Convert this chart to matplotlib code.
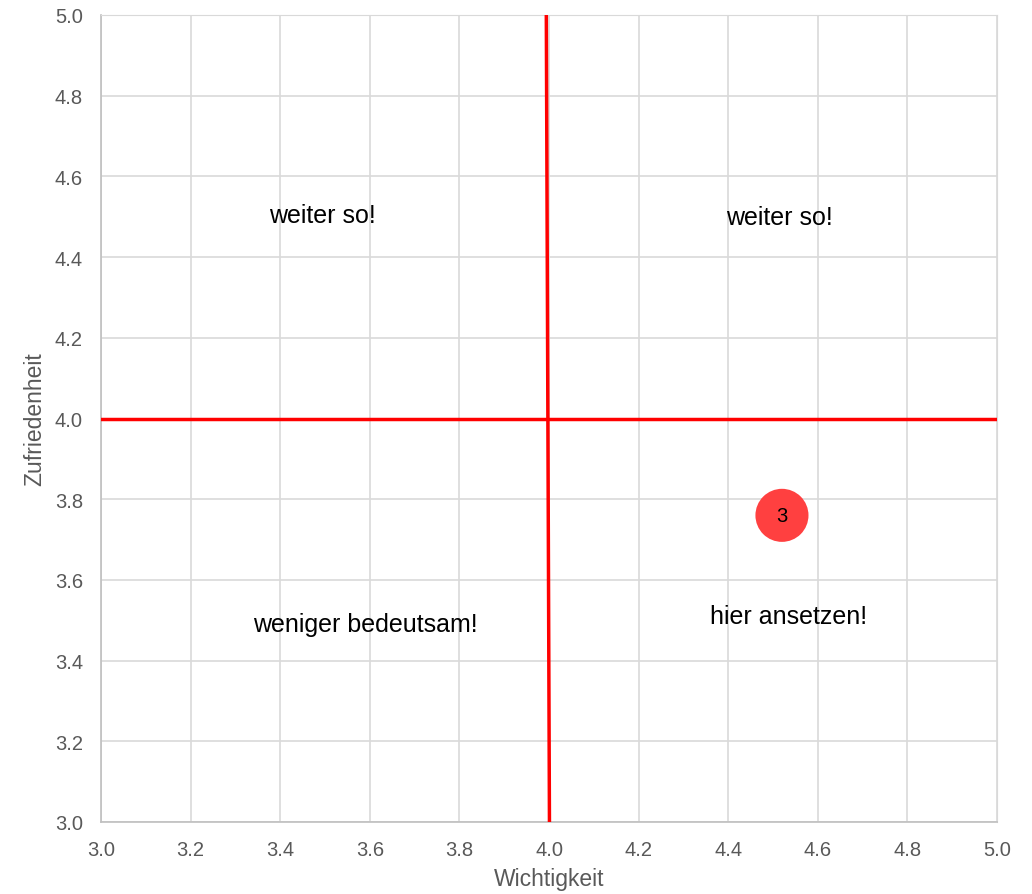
import matplotlib.pyplot as plt

plt.rcParams['font.family'] = ['Liberation Sans', 'DejaVu Sans']

# Data
point_x = [4.52]
point_y = [3.76]
point_labels = ["3"]

quadrant_texts = ["weiter so!", "weiter so!", "weniger bedeutsam!", "hier ansetzen!"]
quadrant_x = [3.495, 4.515, 3.59, 4.535]
quadrant_y = [4.505, 4.5, 3.49, 3.51]

ticks = [3.0, 3.2, 3.4, 3.6, 3.8, 4.0, 4.2, 4.4, 4.6, 4.8, 5.0]

fig = plt.figure(figsize=(10.32, 8.95), dpi=100)
ax = fig.add_axes([101 / 1032, 1 - 823 / 895, 896 / 1032, 807 / 895])

ax.set_xlim(3, 5)
ax.set_ylim(3, 5)
ax.set_xticks(ticks)
ax.set_yticks(ticks)
ax.set_xticklabels([f"{t:.1f}" for t in ticks])
ax.set_yticklabels([f"{t:.1f}" for t in ticks])
ax.grid(True, color='#d9d9d9', linewidth=1.2)
ax.set_axisbelow(True)
ax.tick_params(length=0, labelsize=14.5, labelcolor='#595959')
ax.tick_params(axis='x', pad=13)
ax.tick_params(axis='y', pad=13)
for side in ['top', 'right']:
    ax.spines[side].set_color('#d9d9d9')
for side in ['left', 'bottom']:
    ax.spines[side].set_color('#bfbfbf')
    ax.spines[side].set_linewidth(1.2)

# quadrant dividers
ax.plot([3.994, 4.001], [5, 3], color='#ff0000', linewidth=2.5, zorder=3)
ax.plot([3, 5], [4.0, 4.0], color='#ff0000', linewidth=2.5, zorder=3)

ax.scatter(point_x, point_y, s=1460, color='#ff4040', edgecolors='none', zorder=4, clip_on=False)
for x, y, t in zip(point_x, point_y, point_labels):
    ax.text(x, y, t, ha='center', va='center', fontsize=14.5, color='black', zorder=5)

for x, y, t in zip(quadrant_x, quadrant_y, quadrant_texts):
    ax.text(x, y, t, ha='center', va='center', fontsize=18, color='black', zorder=5)

ax.set_xlabel("Wichtigkeit", fontsize=16.5, color='#595959', labelpad=6)
ax.set_ylabel("Zufriedenheit", fontsize=16.5, color='#595959', labelpad=6)

fig.savefig("out.png", dpi=100)
